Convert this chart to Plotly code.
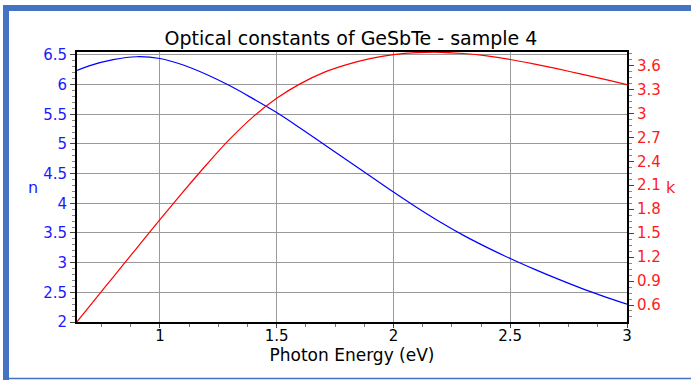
import plotly.graph_objects as go

# ---- data ----
energy = [0.645, 0.7, 0.8, 0.9, 1.0, 1.1, 1.2, 1.3, 1.4, 1.5, 1.6, 1.7, 1.8,
          1.9, 2.0, 2.1, 2.2, 2.3, 2.4, 2.5, 2.6, 2.7, 2.8, 2.9, 3.0]
n_values = [6.24, 6.32, 6.42, 6.47, 6.44, 6.33, 6.17, 5.98, 5.76, 5.53, 5.27,
            5.00, 4.73, 4.46, 4.19, 3.93, 3.685, 3.46, 3.258, 3.07, 2.895,
            2.73, 2.575, 2.433, 2.30]
k_values = [0.39, 0.59, 0.95, 1.31, 1.67, 2.02, 2.36, 2.68, 2.96, 3.19, 3.37,
            3.51, 3.61, 3.685, 3.735, 3.76, 3.765, 3.75, 3.72, 3.675, 3.62,
            3.56, 3.495, 3.43, 3.36]

title_text = "Optical constants of GeSbTe - sample 4"
x_title = "Photon Energy (eV)"
n_label = "n"
k_label = "k"

# ---- layout constants ----
W, H = 691, 380
L, R, T, B = 77, 64, 52, 58
PW, PH = W - L - R, H - T - B
FONT = "DejaVu Sans"
FRAME = "#4472C4"


def px(xp):
    return (xp - L) / PW


def py(yp):
    return (H - B - yp) / PH


fig = go.Figure()
fig.add_trace(go.Scatter(x=energy, y=n_values, mode="lines",
                         line=dict(color="#0000ff", width=1.2, shape="spline"),
                         yaxis="y", showlegend=False))
fig.add_trace(go.Scatter(x=energy, y=k_values, mode="lines",
                         line=dict(color="#ff0000", width=1.2, shape="spline"),
                         yaxis="y2", showlegend=False))

fig.update_layout(
    width=W, height=H,
    margin=dict(l=L, r=R, t=T, b=B, autoexpand=False),
    paper_bgcolor="white", plot_bgcolor="white",
    font=dict(family=FONT, size=15, color="black"),
    title=dict(text=title_text, x=px(351), xref="paper", xanchor="center",
               y=1 - 38 / H, yref="container", yanchor="middle",
               font=dict(family=FONT, size=19, color="black")),
    xaxis=dict(range=[0.645, 3], tick0=0, dtick=0.5, showgrid=True,
               gridcolor="#9a9a9a", gridwidth=1, zeroline=False,
               showline=True, linecolor="black", linewidth=2, mirror=True,
               ticks="outside", ticklen=4, tickcolor="#444",
               ticklabelstandoff=-5,
               minor=dict(dtick=0.125, ticks="outside", ticklen=3, tickcolor="#777"),
               tickfont=dict(family=FONT, size=15, color="black"),
               title=dict(text=x_title, standoff=0,
                          font=dict(family=FONT, size=17, color="black"))),
    yaxis=dict(range=[2, 6.55], tick0=0, dtick=0.5, showgrid=True,
               gridcolor="#9a9a9a", gridwidth=1, zeroline=False,
               showline=True, linecolor="black", linewidth=2,
               ticks="outside", ticklen=5, tickcolor="#444",
               minor=dict(dtick=0.1, ticks="outside", ticklen=3, tickcolor="#888"),
               tickfont=dict(family=FONT, size=15, color="#1a1aff")),
    yaxis2=dict(range=[0.387, 3.769], tick0=0, dtick=0.3, overlaying="y",
                side="right", showgrid=False, zeroline=False,
                showline=True, linecolor="black", linewidth=2,
                ticks="outside", ticklen=5, tickcolor="#444",
                minor=dict(dtick=0.075, ticks="outside", ticklen=3, tickcolor="#888"),
                tickfont=dict(family=FONT, size=15, color="#ff1a1a")),
    annotations=[
        dict(text=n_label, x=px(33), y=0.5, xref="paper", yref="paper",
             xanchor="center", yanchor="middle", showarrow=False,
             font=dict(family=FONT, size=16, color="#1a1aff")),
        dict(text=k_label, x=px(671), y=0.5, xref="paper", yref="paper",
             xanchor="center", yanchor="middle", showarrow=False,
             font=dict(family=FONT, size=16, color="#ff1a1a")),
    ],
    shapes=[
        dict(type="rect", xref="paper", yref="paper",
             x0=px(3), x1=px(9), y0=py(381), y1=py(5),
             fillcolor=FRAME, line=dict(width=0)),
        dict(type="rect", xref="paper", yref="paper",
             x0=px(3), x1=px(692), y0=py(11), y1=py(5),
             fillcolor=FRAME, line=dict(width=0)),
        dict(type="line", xref="paper", yref="paper",
             x0=px(3), x1=px(692), y0=py(378.5), y1=py(378.5),
             line=dict(color=FRAME, width=1.5)),
    ],
)

fig.write_html("out.html",
               config={"displayModeBar": False},
               post_script="document.body.style.margin='0';"
                           "document.body.style.overflow='hidden';")
